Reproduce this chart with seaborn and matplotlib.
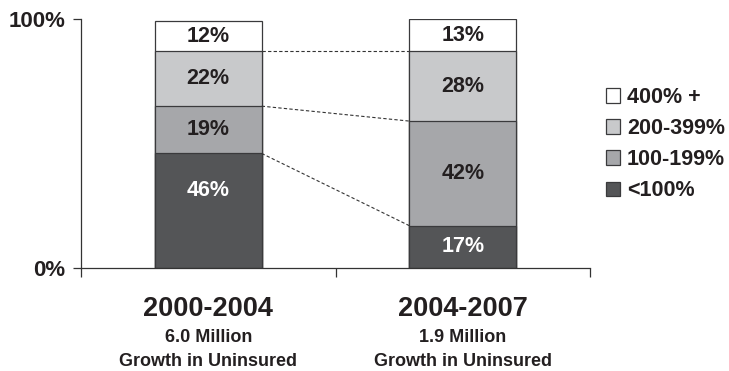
import numpy as np
import pandas as pd
import matplotlib
matplotlib.use("Agg")
import matplotlib.pyplot as plt
import matplotlib.transforms as mtransforms
from matplotlib.patches import Patch
import seaborn as sns

# Income bands (% of poverty level), bottom to top of each stacked bar
bands = ["<100%", "100-199%", "200-399%", "400%+"]
legend_labels = ["400% +", "200-399%", "100-199%", "<100%"]
periods = ["2000-2004", "2004-2007"]
growth = ["6.0 Million", "1.9 Million"]
share_2000_2004 = [46, 19, 22, 12]
share_2004_2007 = [17, 42, 28, 13]

colors = {"<100%": "#545557", "100-199%": "#a6a7aa",
          "200-399%": "#c8c9cb", "400%+": "#ffffff"}
text_dark = "#231f20"
edge = "#3a3a3c"

shares = {periods[0]: share_2000_2004, periods[1]: share_2004_2007}
rows = []
for p in periods:
    vals = np.array(shares[p])
    tops = np.cumsum(vals)
    for b, v, t in zip(bands, vals, tops):
        rows.append({"period": p, "band": b, "share": v, "top": t, "bottom": t - v})
df = pd.DataFrame(rows)

sns.set_theme(style="white")
plt.rcParams["font.family"] = ["Liberation Sans", "DejaVu Sans"]
plt.rcParams["font.weight"] = "bold"

fig = plt.figure(figsize=(7.29, 3.71), dpi=100)
ax = fig.add_axes([81 / 729, 103 / 371, 509 / 729, 249 / 371])

bar_w = 0.42
# Overlapping cumulative bars, tallest first, give the stacked look
sns.barplot(data=df, x="period", y="top", hue="band",
            hue_order=bands[::-1], order=periods, palette=colors,
            dodge=False, width=bar_w, edgecolor=edge, linewidth=0.9,
            saturation=1, legend=False, ax=ax)

ax.set_xlim(-0.5, 1.5)
ax.set_ylim(0, 100)

# Segment labels
label_shift = {(periods[0], "<100%"): 8}
for i, p in enumerate(periods):
    sub = df[df.period == p]
    for _, r in sub.iterrows():
        y = (r["bottom"] + r["top"]) / 2 + label_shift.get((p, r["band"]), 0)
        c = "white" if r["band"] == "<100%" else text_dark
        ax.text(i, y, f"{r['share']}%", ha="center", va="center",
                fontsize=15.5, fontweight="bold", color=c)

# Dashed connectors between the band boundaries of the two bars
left = df[df.period == periods[0]].set_index("band")
right = df[df.period == periods[1]].set_index("band")
for b in ["<100%", "100-199%", "200-399%"]:
    ax.plot([0 + bar_w / 2, 1 - bar_w / 2], [left.loc[b, "top"], right.loc[b, "top"]],
            linestyle=(0, (3, 2)), color="#333333", linewidth=0.8, zorder=1)

# Axes styling
for s in ["top", "right"]:
    ax.spines[s].set_visible(False)
for s in ["left", "bottom"]:
    ax.spines[s].set_color("#333333")
    ax.spines[s].set_linewidth(0.9)
ax.set_yticks([0, 100])
ax.set_yticklabels(["0%", "100%"], fontsize=16, fontweight="bold", color=text_dark)
ax.tick_params(axis="y", direction="out", length=6, width=0.9, color="#333333", pad=5, left=True)
ax.set_xticks([0, 1])
ax.set_xticklabels([])
ax.tick_params(axis="x", which="major", length=0)
ax.set_xticks([-0.5, 0.5, 1.5], minor=True)
ax.tick_params(axis="x", which="minor", direction="out", length=6.5, width=0.9,
               color="#333333", bottom=True)
ax.set_xlabel("")
ax.set_ylabel("")

# Category labels beneath the axis
trans = mtransforms.blended_transform_factory(ax.transData, fig.transFigure)
for i, (p, g) in enumerate(zip(periods, growth)):
    ax.text(i, 1 - 309 / 371, p, transform=trans, ha="center", va="center",
            fontsize=19.5, fontweight="bold", color=text_dark)
    ax.text(i, 1 - 338 / 371, g, transform=trans, ha="center", va="center",
            fontsize=13, fontweight="bold", color=text_dark)
    ax.text(i, 1 - 361 / 371, "Growth in Uninsured", transform=trans, ha="center",
            va="center", fontsize=13, fontweight="bold", color=text_dark)

handles = [Patch(facecolor=colors[b], edgecolor=edge, linewidth=0.9) for b in bands[::-1]]
fig.legend(handles, legend_labels, loc="upper left", bbox_to_anchor=(606 / 729, 1 - 87 / 371),
           frameon=False, handlelength=0.65, handleheight=0.65,
           handletextpad=0.33, labelspacing=0.47, borderpad=0, borderaxespad=0,
           prop={"weight": "bold", "size": 15.5}, labelcolor=text_dark)

fig.savefig("out.png", dpi=100)
